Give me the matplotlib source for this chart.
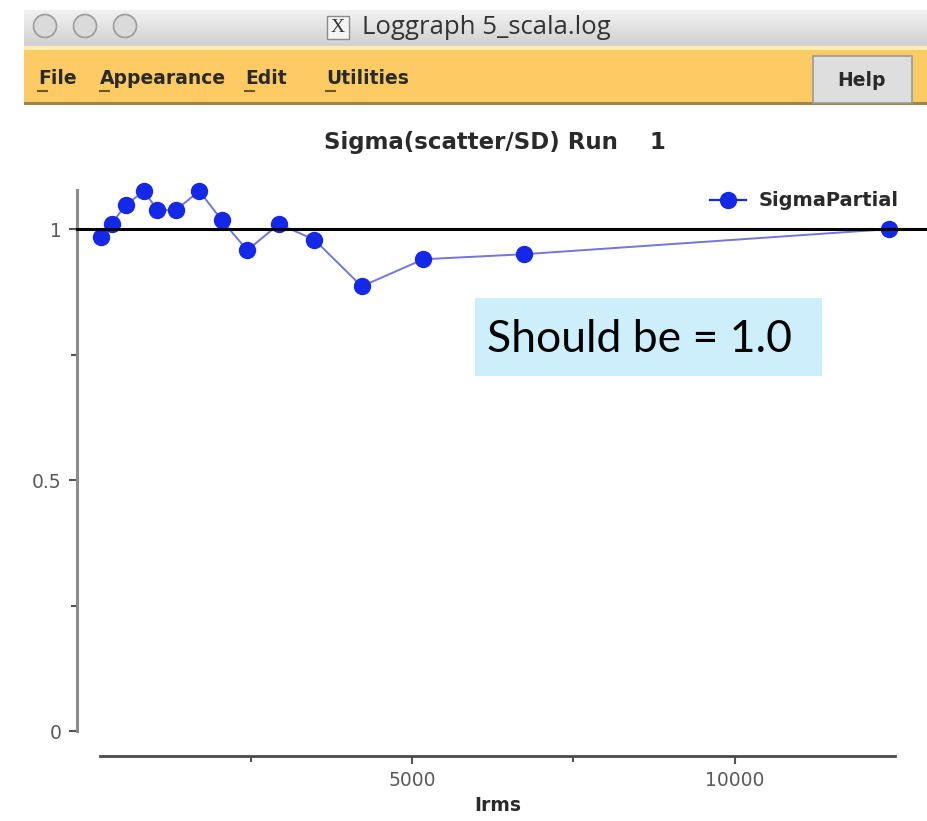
import matplotlib
matplotlib.use("Agg")
import matplotlib.pyplot as plt
import numpy as np
from matplotlib.patches import Rectangle, Circle
from matplotlib.lines import Line2D
from matplotlib.ticker import FixedLocator
import matplotlib.transforms as mtransforms

# Sigma(scatter/SD) against Imean (rms) for run 1
irms = [181, 351, 568, 851, 1057, 1342, 1708, 2054, 2450, 2941, 3488, 4221, 5175, 6731, 12384]
sigma = [0.985, 1.011, 1.048, 1.076, 1.038, 1.038, 1.076, 1.018, 0.958, 1.010, 0.979,
         0.886, 0.940, 0.950, 1.000]

series_name = "SigmaPartial"
plot_title = "Sigma(scatter/SD) Run    1"
x_label = "Irms"
window_title = "Loggraph 5_scala.log"
menu_items = ["File", "Appearance", "Edit", "Utilities"]
note = "Should be = 1.0"

y_major = [0, 0.5, 1]
y_minor = [0.25, 0.75]
x_major = [5000, 10000]
x_minor = [2500, 7500]

UI_FONT = "DejaVu Sans"
TXT = "#2a2a2a"

W, H = 927, 821
fig = plt.figure(figsize=(W / 100, H / 100), dpi=100)
fig.patch.set_facecolor("white")

# window chrome drawn in pixel coordinates
bg = fig.add_axes([0, 0, 1, 1])
bg.set_xlim(0, W)
bg.set_ylim(H, 0)
bg.axis("off")

grad = np.linspace(0, 1, 64).reshape(-1, 1)
bg.imshow(grad, cmap=matplotlib.colors.LinearSegmentedColormap.from_list(
    "tb", ["#f2f2f2", "#d0d0d0"]), extent=[24, 927, 46, 10], aspect="auto", zorder=1)
for cx in (45, 85, 125):
    bg.add_patch(Circle((cx, 26), 11.5, fc="#dadada", ec="#9a9a9a", lw=1.2, zorder=2))

# small X icon and window title
bg.add_patch(Rectangle((327, 16), 22, 23, fc="#f4f4f4", ec="#8a8a8a", lw=1, zorder=2))
bg.text(338, 28, "X", ha="center", va="center", fontsize=14, family="Liberation Serif",
        color="#333333", zorder=3)
bg.text(362, 28, window_title, ha="left", va="center", fontsize=18.5, family="Open Sans",
        color="#333333", zorder=3)

# menu bar
bg.add_patch(Rectangle((24, 46), 903, 4, fc="#fbeeb0", ec="none", zorder=1))
bg.add_patch(Rectangle((24, 50), 903, 53, fc="#fdca63", ec="none", zorder=1))
bg.add_patch(Rectangle((24, 102), 903, 3, fc="#9c8650", ec="none", zorder=1))
menu_x = [38, 100, 245, 326]
for mx, item in zip(menu_x, menu_items):
    bg.text(mx, 79, item, ha="left", va="center", fontsize=13.5, fontweight="bold",
            family=UI_FONT, color=TXT, zorder=3)
    bg.plot([mx, mx + 9], [91, 91], color="#6a5a2a", lw=1.5, zorder=3)

bg.add_patch(Rectangle((813, 56), 99, 47, fc="#dedede", ec="#9a9a9a", lw=1.2, zorder=2))
bg.text(862, 80, "Help", ha="center", va="center", fontsize=13.5, fontweight="bold",
        family=UI_FONT, color=TXT, zorder=3)

# plot title
bg.text(495, 143, plot_title, ha="center", va="center", fontsize=16.5, fontweight="bold",
        family=UI_FONT, color=TXT, zorder=3)

# data axes
ax = fig.add_axes([100 / W, 1 - 731 / H, 795 / W, 541 / H])
ax.patch.set_alpha(0)
ax.set_xlim(170, 12477)
ax.set_ylim(0, 1.078)
ax.spines["top"].set_visible(False)
ax.spines["right"].set_visible(False)
ax.spines["left"].set_position(("outward", 23 * 0.72))
ax.spines["bottom"].set_position(("outward", 25 * 0.72))
ax.spines["left"].set_color("#8c8c8c")
ax.spines["left"].set_linewidth(2.2)
ax.spines["bottom"].set_color("#4a4a4a")
ax.spines["bottom"].set_linewidth(2.0)

ax.yaxis.set_major_locator(FixedLocator(y_major))
ax.yaxis.set_minor_locator(FixedLocator(y_minor))
ax.xaxis.set_major_locator(FixedLocator(x_major))
ax.xaxis.set_minor_locator(FixedLocator(x_minor))
ax.set_yticklabels(["0", "0.5", "1"])
ax.set_xticklabels([str(v) for v in x_major])
ax.tick_params(which="major", direction="out", length=6, width=1.5, colors="#555555")
ax.tick_params(which="minor", direction="out", length=4, width=1.5, colors="#555555")
ax.tick_params(axis="both", which="major", labelsize=13.5, pad=5, labelcolor="#5a5a5a")
for lab in ax.get_xticklabels() + ax.get_yticklabels():
    lab.set_family(UI_FONT)

ax.set_xlabel(x_label, fontsize=13.5, fontweight="bold", family=UI_FONT, color=TXT,
              labelpad=4)

# reference line at sigma = 1 running from the y axis to the window edge
trans = mtransforms.blended_transform_factory(fig.transFigure, ax.transData)
fig.add_artist(Line2D([77 / W, 1.0], [1.0, 1.0], transform=trans, color="black", lw=2.2,
                      zorder=5))

ax.plot(irms, sigma, color="#7474dc", lw=1.4, marker="o", markersize=11.5,
        markerfacecolor="#1428e8", markeredgecolor="#1428e8", clip_on=False, zorder=6)

# legend sample
bg.plot([710, 746], [200, 200], color="#1428e8", lw=1.6, zorder=3)
bg.plot([728], [200], marker="o", markersize=11.5, color="#1428e8", zorder=4)
bg.text(759, 200, series_name, ha="left", va="center", fontsize=14, fontweight="bold",
        family=UI_FONT, color=TXT, zorder=3)

# annotation box
bg.add_patch(Rectangle((475, 298), 347, 78, fc="#cdeefb", ec="none", zorder=2))
bg.text(487, 339, note, ha="left", va="center", fontsize=32, family="Lato",
        color="black", zorder=3)

fig.savefig("out.png", dpi=100)
